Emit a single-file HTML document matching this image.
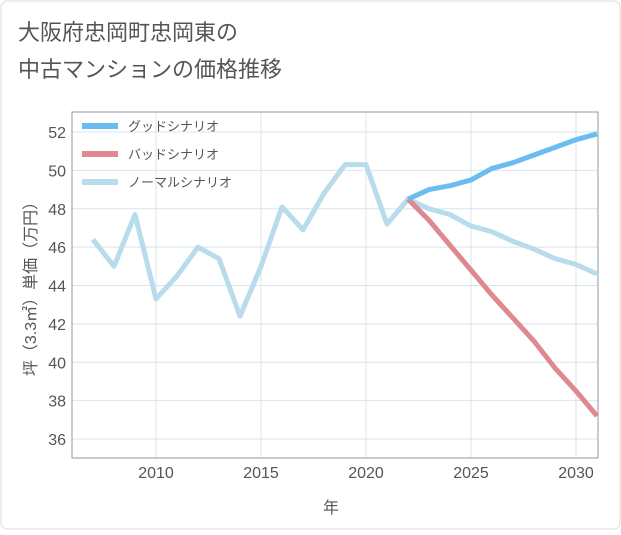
<!DOCTYPE html>
<html><head><meta charset="utf-8"><style>
body{margin:0;background:#fff;}
#c{position:relative;width:621px;height:530px;font-family:"Liberation Sans","Noto Sans CJK JP",sans-serif;}
</style></head><body>
<div id="c">
<svg width="621" height="530" xmlns="http://www.w3.org/2000/svg" id="svg">
<rect x="1" y="1" width="619" height="528" rx="6" fill="#fff" stroke="#ddd"/>
<text x="18" y="40" font-size="22" fill="#555">大阪府忠岡町忠岡東の</text>
<text x="18" y="77" font-size="22" fill="#555">中古マンションの価格推移</text>
<g id="grid"></g>
<g id="axes"></g>
<g id="series"></g>
<g id="legend"></g>
<text x="331" y="513" font-size="16" fill="#555" text-anchor="middle">年</text>
<text transform="translate(36,285) rotate(-90)" font-size="16" fill="#555" text-anchor="middle">坪（3.3㎡）単価（万円）</text>
</svg>
</div>
<script>
const years=[2007,2008,2009,2010,2011,2012,2013,2014,2015,2016,2017,2018,2019,2020,2021,2022,2023,2024,2025,2026,2027,2028,2029,2030,2031];
const normalVals=[46.4,45.0,47.7,43.3,44.5,46.0,45.4,42.4,45.0,48.1,46.9,48.8,50.3,50.3,47.2,48.5,48.0,47.7,47.1,46.8,46.3,45.9,45.4,45.1,44.6];
const futureYears=[2022,2023,2024,2025,2026,2027,2028,2029,2030,2031];
const goodVals=[48.5,49.0,49.2,49.5,50.1,50.4,50.8,51.2,51.6,51.9];
const badVals=[48.5,47.4,46.1,44.8,43.5,42.3,41.1,39.7,38.5,37.2];
const yTicks=[36,38,40,42,44,46,48,50,52];
const xTicks=[2010,2015,2020,2025,2030];
const legendLabels=["グッドシナリオ","バッドシナリオ","ノーマルシナリオ"];
const colors=["#6bbcf0","#e08890","#b8dcec"];
const L=72,R=598,T=112,B=458;
const xs=v=>L+(v-2006)*21;
const ys=v=>439-(v-36)*19.1875;
const NS="http://www.w3.org/2000/svg";
function mk(tag,attrs,parent){const e=document.createElementNS(NS,tag);for(const k in attrs)e.setAttribute(k,attrs[k]);document.getElementById(parent).appendChild(e);return e;}
yTicks.forEach(v=>{
 const l=mk('line',{x1:L,x2:R,y1:ys(v),y2:ys(v),stroke:'#d8e4ee','stroke-width':1},'grid');
 
 
 const t=mk('text',{x:L-6,y:ys(v)+6,'font-size':16,fill:'#555','text-anchor':'end'},'axes');
 t.textContent=v;
 
 
});
xTicks.forEach(v=>{
 const l=mk('line',{x1:xs(v),x2:xs(v),y1:T,y2:B,stroke:'#d8e4ee','stroke-width':1},'grid');
 
 
 const t=mk('text',{x:xs(v),y:B+20,'font-size':16,fill:'#555','text-anchor':'middle'},'axes');
 t.textContent=v;
 
 
});
const fr=mk('rect',{x:L,y:T,width:R-L,height:B-T,fill:'none',stroke:'#8a9aaa','stroke-width':1},'axes');


function line(xv,yv,col,name){
 const d=xv.map((x,i)=>(i?'L':'M')+xs(x)+','+ys(yv[i])).join(' ');
 const p=mk('path',{d:d,fill:'none',stroke:col,'stroke-width':5,'stroke-linejoin':'round'},'series');
 
 
}
line(years,normalVals,colors[2],'normal-scenario-line');
line(futureYears,badVals,colors[1],'bad-scenario-line');
line(futureYears,goodVals,colors[0],'good-scenario-line');
legendLabels.forEach((s,i)=>{
 const y=126+i*28;
 const l=mk('line',{x1:82,x2:118,y1:y,y2:y,stroke:colors[i],'stroke-width':6},'legend');
 
 
 const t=mk('text',{x:128,y:y+5,'font-size':13,fill:'#555'},'legend');
 t.textContent=s;
 
 
});
</script>
</body></html>
